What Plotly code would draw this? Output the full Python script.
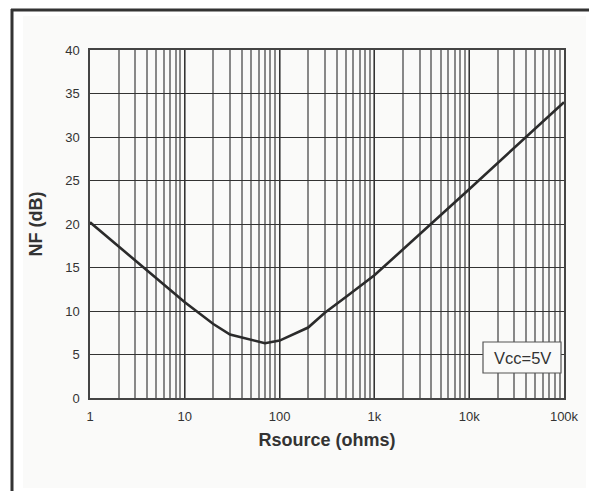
import plotly.graph_objects as go

# Data
r_source = [1, 10, 20, 30, 70, 100, 200, 300, 500, 1000, 10000, 100000]
nf_db = [20.2, 11.0, 8.5, 7.3, 6.3, 6.6, 8.1, 9.8, 11.6, 14.1, 24.0, 34.0]

x_tickvals = [1, 10, 100, 1000, 10000, 100000]
x_ticktext = ["1", "10", "100", "1k", "10k", "100k"]
y_tickvals = [0, 5, 10, 15, 20, 25, 30, 35, 40]

# page body has an 8px default margin; compensate so pixels match
O = 8
W, H = 597 - O, 491 - O
L, T = 90 - O, 50 - O
R = W - (564 - O)
B = H - (398 - O)
pw, ph = W - L - R, H - T - B

def px(x):
    return (x - O - L) / pw

def py(y):
    return (H - B - (y - O)) / ph

fig = go.Figure()
fig.add_trace(go.Scatter(
    x=r_source, y=nf_db, mode="lines",
    line=dict(color="#2b2b2b", width=2.6),
    showlegend=False, hoverinfo="skip",
))

font_family = "Liberation Sans, Arial, Helvetica, sans-serif"

fig.update_layout(
    width=W, height=H,
    margin=dict(l=L, r=R, t=T, b=B),
    paper_bgcolor="white",
    plot_bgcolor="#fafaf9",
    font=dict(family=font_family, color="#333333", size=13),
    showlegend=False,
    xaxis=dict(
        type="log", range=[0, 5],
        tickvals=x_tickvals, ticktext=x_ticktext,
        showgrid=True, gridcolor="#333333", gridwidth=1.2,
        minor=dict(dtick="D1", showgrid=True, gridcolor="#888888", gridwidth=1.5, ticks=""),
        showline=True, linecolor="#444444", linewidth=1.5, mirror=True,
        ticks="", zeroline=False,
        ticklabelstandoff=6,
        tickfont=dict(size=13, color="#333333"),
        title=dict(text="<b>Rsource (ohms)</b>", font=dict(size=18, color="#333333"), standoff=10),
    ),
    yaxis=dict(
        range=[0, 40], tickvals=y_tickvals,
        showgrid=True, gridcolor="#333333", gridwidth=1.2,
        showline=True, linecolor="#444444", linewidth=1.5, mirror=True,
        ticks="", zeroline=False,
        ticklabelstandoff=6,
        tickfont=dict(size=13, color="#333333"),
        title=dict(text="<b>NF (dB)</b>", font=dict(size=18, color="#333333"), standoff=18),
    ),
    shapes=[
        # light panel background
        dict(type="rect", xref="paper", yref="paper", layer="below",
             x0=px(23), x1=px(586), y0=py(488), y1=py(16),
             fillcolor="#fafaf9", line=dict(width=0)),
        # frame lines (top and left)
        dict(type="line", xref="paper", yref="paper",
             x0=px(11), x1=px(597), y0=py(10), y1=py(10),
             line=dict(color="#333333", width=3)),
        dict(type="line", xref="paper", yref="paper",
             x0=px(12), x1=px(12), y0=py(9), y1=py(491),
             line=dict(color="#333333", width=3)),
        # legend box
        dict(type="rect", xref="x domain", yref="y domain",
             x0=px(483), x1=px(561), y0=py(373), y1=py(342),
             fillcolor="#fafaf9", line=dict(color="#555555", width=1.2)),
    ],
    annotations=[
        dict(text="Vcc=5V", xref="x domain", yref="y domain",
             x=px(522), y=py(357.5), showarrow=False,
             xanchor="center", yanchor="middle",
             font=dict(size=16.5, color="#333333")),
    ],
)

fig.write_html("out.html")
